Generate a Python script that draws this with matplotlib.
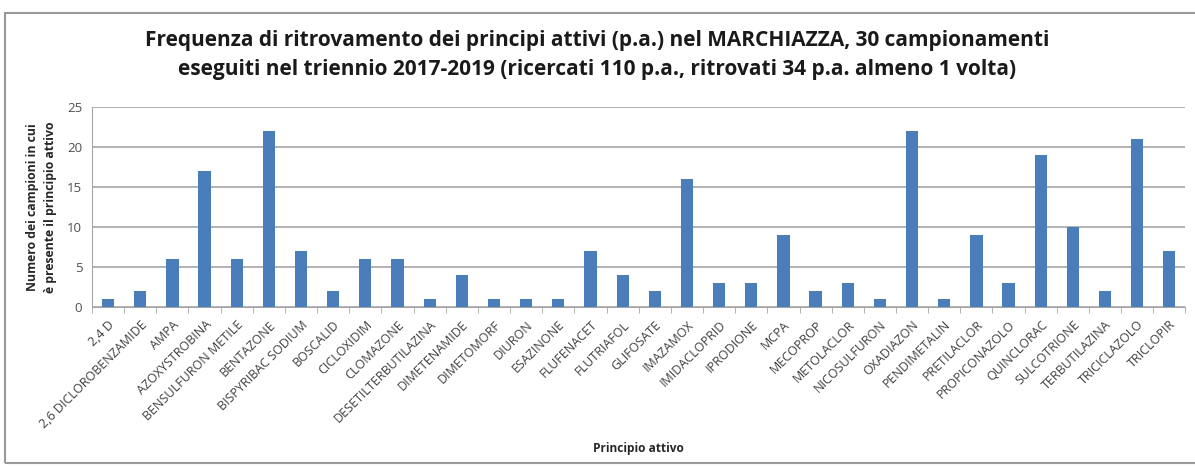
import numpy as np
import matplotlib.pyplot as plt
from matplotlib.patches import Rectangle

# Principi attivi ritrovati e numero di campioni positivi
principi = ['2,4 D', '2,6 DICLOROBENZAMIDE', 'AMPA', 'AZOXYSTROBINA', 'BENSULFURON METILE',
            'BENTAZONE', 'BISPYRIBAC SODIUM', 'BOSCALID', 'CICLOXIDIM', 'CLOMAZONE',
            'DESETILTERBUTILAZINA', 'DIMETENAMIDE', 'DIMETOMORF', 'DIURON', 'ESAZINONE',
            'FLUFENACET', 'FLUTRIAFOL', 'GLIFOSATE', 'IMAZAMOX', 'IMIDACLOPRID',
            'IPRODIONE', 'MCPA', 'MECOPROP', 'METOLACLOR', 'NICOSULFURON',
            'OXADIAZON', 'PENDIMETALIN', 'PRETILACLOR', 'PROPICONAZOLO', 'QUINCLORAC',
            'SULCOTRIONE', 'TERBUTILAZINA', 'TRICICLAZOLO', 'TRICLOPIR']
campioni = [1, 2, 6, 17, 6, 22, 7, 2, 6, 6,
            1, 4, 1, 1, 1, 7, 4, 2, 16, 3,
            3, 9, 2, 3, 1, 22, 1, 9, 3, 19,
            10, 2, 21, 7]

titolo = ('Frequenza di ritrovamento dei principi attivi (p.a.) nel MARCHIAZZA, 30 campionamenti\n'
          'eseguiti nel triennio 2017-2019 (ricercati 110 p.a., ritrovati 34 p.a. almeno 1 volta)')

plt.rcParams['font.family'] = ['Open Sans', 'DejaVu Sans']

fig = plt.figure(figsize=(11.95, 4.66), dpi=100)
ax = fig.add_axes([0.077, 0.341, 0.915, 0.429])

x = np.arange(len(principi))
ax.bar(x, campioni, width=0.38, color='#4A7EBB', zorder=3)

ax.set_xlim(-0.5, len(principi) - 0.5)
ax.set_ylim(0, 25)
ax.set_yticks(range(0, 26, 5))
ax.yaxis.grid(True, color='#A6A6A6', linewidth=1.2, zorder=0)
ax.tick_params(axis='y', length=0, labelsize=9.5, labelcolor='#505050', pad=7)

# etichette centrate sulle barre, tacche tra le categorie
ax.set_xticks(x)
ax.set_xticklabels(principi, rotation=45, ha='right', rotation_mode='anchor',
                   fontsize=9, color='#404040')
ax.tick_params(axis='x', which='major', length=0, pad=8)
ax.set_xticks(np.arange(-0.5, len(principi), 1), minor=True)
ax.tick_params(axis='x', which='minor', length=4, color='#A6A6A6', direction='out')

for s in ['top', 'right']:
    ax.spines[s].set_visible(False)
ax.spines['left'].set_color('#A6A6A6')
ax.spines['bottom'].set_color('#A6A6A6')

ax.set_ylabel('Numero dei campioni in cui\nè presente il principio attivo',
              fontsize=8.8, fontweight='bold', color='#262626', labelpad=7,
              linespacing=1.55)
fig.text(0.534, 0.038, 'Principio attivo', fontsize=8.6, fontweight='bold',
         color='#262626', ha='center', va='center')

fig.text(0.5, 0.882, titolo, fontsize=15, fontweight='bold', ha='center',
         va='center', linespacing=1.5, color='#1a1a1a')

# cornice del grafico
fig.patches.append(Rectangle((0.004, 0.006), 1.2, 0.966, transform=fig.transFigure,
                             fill=False, edgecolor='#999999', linewidth=1.5))

plt.savefig('out.png', dpi=100)
